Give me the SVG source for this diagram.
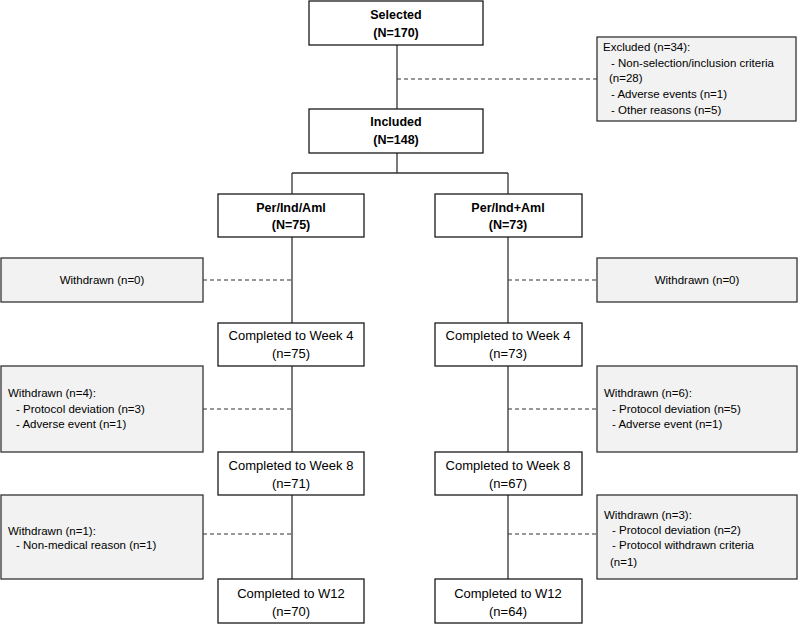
<svg xmlns="http://www.w3.org/2000/svg" width="799" height="625" viewBox="0 0 799 625">
<style>
.box{fill:#ffffff;stroke:#1a1a1a;stroke-width:1.3}
.gbox{fill:#f2f2f2;stroke:#333333;stroke-width:1.3}
.t{font-family:"Liberation Sans",Arial,sans-serif;font-size:13px;fill:#000;text-anchor:middle;dominant-baseline:central}
.b{font-weight:bold;font-size:12.5px}
.g{font-family:"Liberation Sans",Arial,sans-serif;font-size:11.5px;fill:#000;dominant-baseline:central}
.gc{text-anchor:middle}
.ln{stroke:#333;stroke-width:1.3;fill:none}
.ds{stroke:#333;stroke-width:1.2;fill:none;stroke-dasharray:4 3}
</style>
<rect width="799" height="625" fill="#ffffff"/>
<g id="connectors">
<path class="ln" d="M397 45V109M397 153V173M292 173H508M292 173V579M508 173V579"/>
<path class="ds" d="M397 79H597M203 280H292M508 280H597M203 409H292M508 409H597M203 534H292M508 534H597"/>
</g>
<g id="selected"><rect class="box" x="309" y="1" width="174" height="44"/><text class="t b" x="396" y="15">Selected</text><text class="t b" x="396" y="33">(N=170)</text></g>
<g id="excluded"><rect class="gbox" x="597" y="37" width="199" height="84"/>
<text class="g" x="603" y="47">Excluded (n=34):</text>
<text class="g" x="611" y="63">- Non-selection/inclusion criteria</text>
<text class="g" x="609" y="78">(n=28)</text>
<text class="g" x="611" y="94">- Adverse events (n=1)</text>
<text class="g" x="611" y="110">- Other reasons (n=5)</text></g>
<g id="included"><rect class="box" x="309" y="109" width="174" height="44"/><text class="t b" x="396" y="122">Included</text><text class="t b" x="396" y="140">(N=148)</text></g>
<g id="armA"><rect class="box" x="218" y="194" width="146" height="43"/><text class="t b" x="291" y="208">Per/Ind/Aml</text><text class="t b" x="291" y="225">(N=75)</text></g>
<g id="armB"><rect class="box" x="435" y="194" width="147" height="43"/><text class="t b" x="508" y="208">Per/Ind+Aml</text><text class="t b" x="508" y="225">(N=73)</text></g>
<g id="wA0"><rect class="gbox" x="1" y="258" width="202" height="44"/><text class="g gc" x="102" y="280">Withdrawn (n=0)</text></g>
<g id="wB0"><rect class="gbox" x="597" y="258" width="200" height="44"/><text class="g gc" x="697" y="280">Withdrawn (n=0)</text></g>
<g id="a4"><rect class="box" x="218" y="323" width="146" height="43"/><text class="t" x="291" y="335">Completed to Week  4</text><text class="t" x="291" y="353">(n=75)</text></g>
<g id="b4"><rect class="box" x="435" y="323" width="147" height="43"/><text class="t" x="508" y="335">Completed to Week  4</text><text class="t" x="508" y="353">(n=73)</text></g>
<g id="wA4"><rect class="gbox" x="1" y="366" width="202" height="86"/>
<text class="g" x="8" y="393">Withdrawn (n=4):</text>
<text class="g" x="16" y="409">- Protocol deviation (n=3)</text>
<text class="g" x="16" y="424">- Adverse event (n=1)</text></g>
<g id="wB4"><rect class="gbox" x="597" y="366" width="200" height="86"/>
<text class="g" x="604" y="393">Withdrawn (n=6):</text>
<text class="g" x="612" y="409">- Protocol deviation (n=5)</text>
<text class="g" x="612" y="424">- Adverse event (n=1)</text></g>
<g id="a8"><rect class="box" x="218" y="452" width="146" height="43"/><text class="t" x="291" y="465">Completed to Week  8</text><text class="t" x="291" y="483">(n=71)</text></g>
<g id="b8"><rect class="box" x="435" y="452" width="147" height="43"/><text class="t" x="508" y="465">Completed to Week  8</text><text class="t" x="508" y="483">(n=67)</text></g>
<g id="wA8"><rect class="gbox" x="1" y="495" width="202" height="84"/>
<text class="g" x="8" y="531">Withdrawn (n=1):</text>
<text class="g" x="16" y="545">- Non-medical reason (n=1)</text></g>
<g id="wB8"><rect class="gbox" x="597" y="495" width="200" height="84"/>
<text class="g" x="604" y="515">Withdrawn (n=3):</text>
<text class="g" x="612" y="530">- Protocol deviation (n=2)</text>
<text class="g" x="612" y="545">- Protocol withdrawn criteria</text>
<text class="g" x="610" y="562">(n=1)</text></g>
<g id="a12"><rect class="box" x="218" y="579" width="146" height="44"/><text class="t" x="291" y="593">Completed to W12</text><text class="t" x="291" y="611">(n=70)</text></g>
<g id="b12"><rect class="box" x="435" y="579" width="147" height="44"/><text class="t" x="508" y="593">Completed to W12</text><text class="t" x="508" y="611">(n=64)</text></g>
</svg>
